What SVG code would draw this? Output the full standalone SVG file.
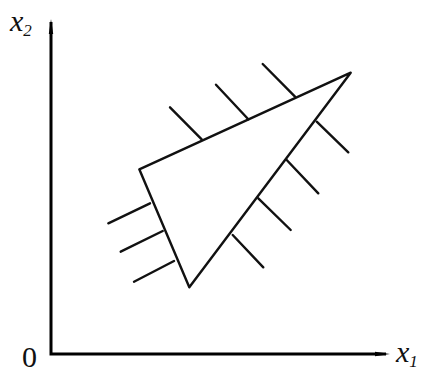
<svg xmlns="http://www.w3.org/2000/svg" width="422" height="375" viewBox="0 0 422 375">
<style>
.ax{stroke:#000;stroke-width:3;fill:none}
.ln{stroke:#111;stroke-width:2.4;fill:none;stroke-linecap:round;stroke-linejoin:round}
.t{font-family:"Liberation Serif",serif;font-size:30px;fill:#111}
.i{font-style:italic}
.s{font-size:17px}
</style>
<g id="axes">
<polyline class="ax" points="51,22 51,354 386,354"/>
<polygon points="51,19 48.8,34 53.2,34" fill="#000"/>
<polygon points="390,354 375,351.8 375,356.2" fill="#000"/>
</g>
<g id="labels">
<text class="t i" x="10" y="31">x<tspan class="s" dy="5">2</tspan></text>
<text class="t" x="22" y="367" font-size="28">0</text>
<text class="t i" x="396" y="362">x<tspan class="s" dy="5">1</tspan></text>
</g>
<g id="triangle">
<polygon class="ln" points="139.3,169.3 189.3,287.3 350.7,72.7"/>
</g>
<g id="hatches">
<line class="ln" x1="170" y1="107.3" x2="201.7" y2="139.3"/>
<line class="ln" x1="216" y1="84.7" x2="248.3" y2="119.3"/>
<line class="ln" x1="262.7" y1="64" x2="295" y2="96.7"/>
<line class="ln" x1="316.7" y1="121.7" x2="348.3" y2="152.3"/>
<line class="ln" x1="286.7" y1="160" x2="318.3" y2="193.3"/>
<line class="ln" x1="258.3" y1="198.3" x2="290.7" y2="230"/>
<line class="ln" x1="232.7" y1="235" x2="263.3" y2="267.3"/>
<line class="ln" x1="150" y1="203.3" x2="108.3" y2="223.3"/>
<line class="ln" x1="162.7" y1="231" x2="120.7" y2="251.7"/>
<line class="ln" x1="174" y1="261" x2="134" y2="281.7"/>
</g>
</svg>
